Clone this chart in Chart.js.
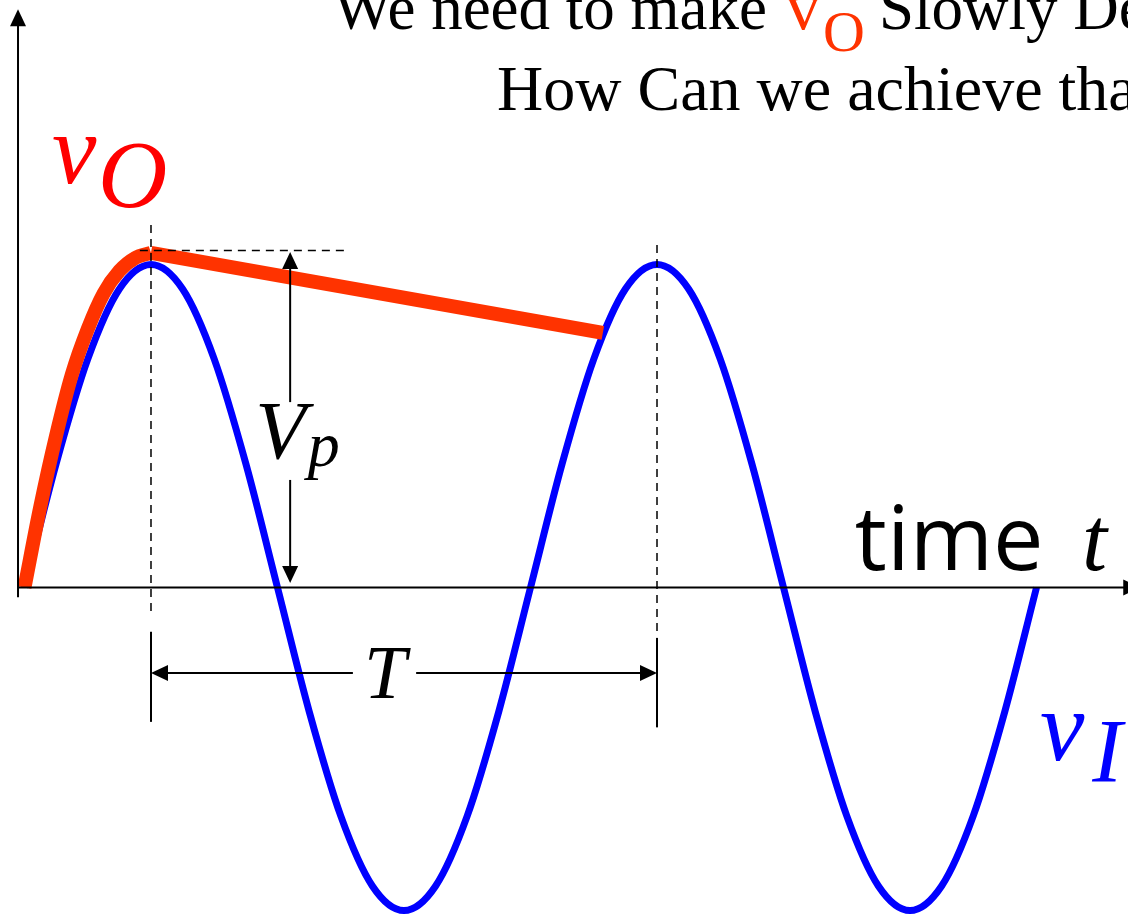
<!DOCTYPE html>
<html>
<head>
<meta charset="utf-8">
<title>Peak detector: slowly decaying output</title>
<script src="https://cdn.jsdelivr.net/npm/chart.js@4.4.1/dist/chart.umd.min.js"></script>
<style>
  html, body { margin: 0; padding: 0; background: #fff; }
  #wrap { width: 1128px; height: 920px; }
</style>
</head>
<body>
<div id="wrap"><canvas id="chart" width="1128" height="920"></canvas></div>
<script>
// time is in periods (T = 1), voltage in units of the input peak Vp
// input sine v_I, read at every 1/16 of a period
const inputTime = [0, 0.0625, 0.125, 0.1875, 0.25, 0.3125, 0.375, 0.4375, 0.5,
  0.5625, 0.625, 0.6875, 0.75, 0.8125, 0.875, 0.9375, 1,
  1.0625, 1.125, 1.1875, 1.25, 1.3125, 1.375, 1.4375, 1.5,
  1.5625, 1.625, 1.6875, 1.75, 1.8125, 1.875, 1.9375, 2];
const inputVolts = [0, 0.383, 0.707, 0.924, 1, 0.924, 0.707, 0.383, 0,
  -0.383, -0.707, -0.924, -1, -0.924, -0.707, -0.383, 0,
  0.383, 0.707, 0.924, 1, 0.924, 0.707, 0.383, 0,
  -0.383, -0.707, -0.924, -1, -0.924, -0.707, -0.383, 0];

// output v_O: follows the input up to the first peak ...
const riseTime = [0, 0.03125, 0.0625, 0.09375, 0.125, 0.15625, 0.1875, 0.21875, 0.25];
const riseVolts = [0, 0.25, 0.47, 0.66, 0.80, 0.91, 0.98, 1.02, 1.036];
// ... then decays slowly until the input catches it again
const decayTime = [0.25, 1.143];
const decayVolts = [1.036, 0.788];

const toPoints = (xs, ys) => xs.map((t, i) => ({ x: t, y: ys[i] }));

// guide lines, dimension arrows and axes (data coordinates)
const guides = [
  // axes
  { from: [-0.0128, -0.03], to: [-0.0128, 1.79], head: true, width: 2 },
  { from: [-0.0128, 0], to: [2.205, 0], head: true, width: 2 },
  // dashed markers at the peaks
  { from: [0.25, 1.122], to: [0.25, -0.091], dash: [8, 6], width: 1.5 },
  { from: [1.25, 1.060], to: [1.25, -0.138], dash: [8, 6], width: 1.5 },
  { from: [0.228, 1.043], to: [0.643, 1.043], dash: [8, 6], width: 1.5 },
  // period ticks
  { from: [0.25, -0.137], to: [0.25, -0.416], width: 2 },
  { from: [1.25, -0.156], to: [1.25, -0.433], width: 2 },
  // T arrow
  { from: [0.649, -0.265], to: [0.25, -0.265], head: true, width: 2 },
  { from: [0.774, -0.265], to: [1.25, -0.265], head: true, width: 2 },
  // Vp arrow
  { from: [0.525, 0.574], to: [0.525, 1.039], head: true, width: 2 },
  { from: [0.525, 0.333], to: [0.525, 0.014], head: true, width: 2 }
];

const labels = [
  { text: 'v', at: [0.0543, 1.2523], font: 'italic 100px "Liberation Serif"', color: '#ff0000' },
  { text: 'O', at: [0.1453, 1.178], font: 'italic 96px "Liberation Serif"', color: '#ff0000' },
  { text: 'V', at: [0.456, 0.401], font: 'italic 83px "Liberation Serif"', color: '#000' },
  { text: 'p', at: [0.560, 0.376], font: 'italic 64px "Liberation Serif"', color: '#000' },
  { text: 'T', at: [0.7125, -0.342], font: 'italic 76px "Liberation Serif"', color: '#000', align: 'center' },
  { text: 'time', at: [1.641, 0.054], font: '90px "Open Sans"', color: '#000' },
  { text: 't', at: [2.090, 0.054], font: 'italic 90px "Liberation Serif"', color: '#000' },
  { text: 'v', at: [2.007, -0.534], font: 'italic 100px "Liberation Serif"', color: '#0000ff' },
  { text: 'I', at: [2.110, -0.602], font: 'italic 90px "Liberation Serif"', color: '#0000ff' }
];

// heading, in page pixels
const heading = [
  { text: 'We need to make', x: 333, y: 29, font: '63px "Liberation Serif"', color: '#000' },
  { text: 'v', x: 786, y: 29, font: '68px "Liberation Serif"', color: '#ff3300' },
  { text: 'O', x: 823, y: 51, font: '58px "Liberation Serif"', color: '#ff3300' },
  { text: 'Slowly Decrease', x: 879, y: 29, font: '63px "Liberation Serif"', color: '#000' },
  { text: 'How Can we achieve that?', x: 497, y: 110, font: '64px "Liberation Serif"', color: '#000' }
];

function arrowHead(ctx, x0, y0, x1, y1) {
  const a = Math.atan2(y1 - y0, x1 - x0);
  const len = 17, half = 8;
  ctx.beginPath();
  ctx.moveTo(x1, y1);
  ctx.lineTo(x1 - len * Math.cos(a) + half * Math.sin(a), y1 - len * Math.sin(a) - half * Math.cos(a));
  ctx.lineTo(x1 - len * Math.cos(a) - half * Math.sin(a), y1 - len * Math.sin(a) + half * Math.cos(a));
  ctx.closePath();
  ctx.fill();
}

const overlay = {
  id: 'overlay',
  afterDatasetsDraw(chart) {
    const { ctx, scales: { x, y } } = chart;
    const px = t => x.getPixelForValue(t);
    const py = v => y.getPixelForValue(v);
    ctx.save();
    ctx.strokeStyle = '#000';
    ctx.fillStyle = '#000';
    guides.forEach(g => {
      const x0 = px(g.from[0]), y0 = py(g.from[1]);
      const x1 = px(g.to[0]), y1 = py(g.to[1]);
      ctx.lineWidth = g.width;
      ctx.setLineDash(g.dash || []);
      ctx.beginPath();
      ctx.moveTo(x0, y0);
      if (g.head) {
        // stop the shaft at the base of the head
        const a = Math.atan2(y1 - y0, x1 - x0);
        ctx.lineTo(x1 - 12 * Math.cos(a), y1 - 12 * Math.sin(a));
      } else {
        ctx.lineTo(x1, y1);
      }
      ctx.stroke();
      ctx.setLineDash([]);
      if (g.head) arrowHead(ctx, x0, y0, x1, y1);
    });

    ctx.textBaseline = 'alphabetic';
    labels.forEach(l => {
      ctx.font = l.font;
      ctx.fillStyle = l.color;
      ctx.textAlign = l.align || 'left';
      ctx.fillText(l.text, px(l.at[0]), py(l.at[1]));
    });
    ctx.textAlign = 'left';
    heading.forEach(h => {
      ctx.font = h.font;
      ctx.fillStyle = h.color;
      ctx.fillText(h.text, h.x, h.y);
    });
    ctx.restore();
  }
};

new Chart(document.getElementById('chart'), {
  type: 'line',
  data: {
    datasets: [
      {
        label: 'v_O decay',
        data: toPoints(decayTime, decayVolts),
        borderColor: '#ff3300',
        borderWidth: 14,
        borderCapStyle: 'butt',
        tension: 0,
        pointRadius: 0,
        order: 1
      },
      {
        label: 'v_O rise',
        data: toPoints(riseTime, riseVolts),
        borderColor: '#ff3300',
        borderWidth: 14,
        borderCapStyle: 'butt',
        borderJoinStyle: 'round',
        cubicInterpolationMode: 'monotone',
        pointRadius: 0,
        order: 2
      },
      {
        label: 'v_I',
        data: toPoints(inputTime, inputVolts),
        borderColor: '#0000ff',
        borderWidth: 7,
        borderCapStyle: 'butt',
        cubicInterpolationMode: 'monotone',
        pointRadius: 0,
        order: 3
      }
    ]
  },
  options: {
    responsive: false,
    animation: false,
    devicePixelRatio: 1,
    layout: { padding: 0 },
    plugins: { legend: { display: false }, tooltip: { enabled: false } },
    scales: {
      x: { type: 'linear', min: -0.0484, max: 2.1808, display: false },
      y: { type: 'linear', min: -1.0294, max: 1.8189, display: false }
    }
  },
  plugins: [overlay]
});
</script>
</body>
</html>
